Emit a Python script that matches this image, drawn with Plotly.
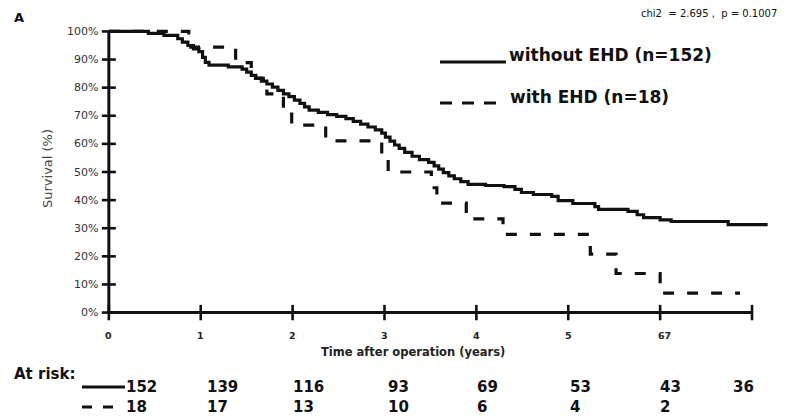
import plotly.graph_objects as go

# ---------------- data ----------------
# Kaplan-Meier curve: without EHD (n=152)  (years, survival %)
t_without = [0, 0.43, 0.60, 0.75, 0.80, 0.86, 0.92, 0.98, 1.02, 1.05, 1.09, 1.30, 1.45,
             1.50, 1.55, 1.60, 1.66, 1.72, 1.78, 1.84, 1.90, 1.96, 2.02, 2.08, 2.13, 2.18,
             2.28, 2.38, 2.48, 2.58, 2.66, 2.74, 2.82, 2.90, 2.97, 3.01, 3.06, 3.11, 3.16,
             3.22, 3.30, 3.38, 3.48, 3.54, 3.59, 3.64, 3.70, 3.76, 3.83, 3.91, 4.10, 4.30,
             4.42, 4.49, 4.62, 4.82, 4.89, 5.05, 5.29, 5.33, 5.65, 5.75, 5.82, 6.00, 6.12,
             6.74, 7.17]
s_without = [100, 99.3, 98.6, 97.4, 96.2, 95.0, 93.8, 92.8, 90.8, 89.0, 88.0, 87.4, 86.6,
             85.5, 84.4, 83.4, 82.3, 81.3, 80.2, 79.0, 77.8, 76.8, 75.6, 74.4, 73.2, 72.0,
             71.2, 70.4, 69.8, 69.0, 68.0, 67.0, 66.0, 65.0, 63.8, 62.4, 61.0, 59.6, 58.4,
             57.0, 55.6, 54.4, 53.4, 52.2, 51.0, 49.8, 48.6, 47.6, 46.6, 45.6, 45.2, 44.8,
             43.8, 42.7, 42.0, 41.3, 39.8, 38.8, 37.7, 36.7, 36.0, 34.8, 33.8, 33.0, 32.4,
             31.3, 31.3]

# Kaplan-Meier curve: with EHD (n=18)
t_with = [0, 0.87, 1.38, 1.55, 1.72, 1.90, 1.99, 2.36, 2.97, 3.04, 3.51, 3.57, 3.89,
          4.29, 5.24, 5.52, 6.00, 6.87]
s_with = [100, 94.4, 88.9, 83.3, 77.8, 72.2, 66.7, 61.1, 55.6, 50.0, 44.4, 38.9, 33.3,
          27.8, 20.8, 13.9, 6.9, 6.9]

# axes ticks
x_ticks = [0, 1, 2, 3, 4, 5, 6, 7]
x_ticktext = ["0", "1", "2", "3", "4", "5", "67", ""]
y_ticks = [0, 10, 20, 30, 40, 50, 60, 70, 80, 90, 100]
y_ticktext = [f"{v}%" for v in y_ticks]

# numbers at risk
risk_without = [152, 139, 116, 93, 69, 53, 43, 36]
risk_with = [18, 17, 13, 10, 6, 4, 2]

label_without = "without EHD (n=152)"
label_with = "with EHD (n=18)"
stats_text = "chi2\u00a0\u00a0=\u00a02.695\u00a0,\u00a0\u00a0p\u00a0=\u00a00.1007"

# ---------------- layout helpers ----------------
W, H = 786, 419
ML, MR, MT, MB = 107, 11, 23, 98
PW, PH = W - ML - MR, H - MT - MB


def xp(px):
    return (px - ML) / PW


def yp(py):
    return (H - MB - py) / PH


FONT = "DejaVu Sans"
BLACK = "#111111"

fig = go.Figure()

# survival curves
fig.add_trace(go.Scatter(x=t_without, y=s_without, mode="lines", line_shape="hv",
                         line=dict(color=BLACK, width=3.2), hoverinfo="skip"))
fig.add_trace(go.Scatter(x=t_with, y=s_with, mode="lines", line_shape="hv",
                         line=dict(color=BLACK, width=3.2, dash="11px,13px"), hoverinfo="skip"))

# axis lines
fig.add_trace(go.Scatter(x=[x_ticks[0], x_ticks[0]], y=[y_ticks[0], y_ticks[-1]], mode="lines",
                         line=dict(color=BLACK, width=3), hoverinfo="skip"))
fig.add_trace(go.Scatter(x=[x_ticks[0], x_ticks[-1]], y=[y_ticks[0], y_ticks[0]], mode="lines",
                         line=dict(color=BLACK, width=3), hoverinfo="skip"))
# crossing tick marks
fig.add_trace(go.Scatter(x=[x_ticks[0]] * len(y_ticks), y=y_ticks, mode="markers", cliponaxis=False,
                         marker=dict(symbol="line-ew", size=10, line=dict(color=BLACK, width=2.6)),
                         hoverinfo="skip"))
fig.add_trace(go.Scatter(x=x_ticks, y=[y_ticks[0]] * len(x_ticks), mode="markers", cliponaxis=False,
                         marker=dict(symbol="line-ns", size=11, line=dict(color=BLACK, width=2.6)),
                         hoverinfo="skip"))

ann = []


def text(x, y, s, size, xanchor="center", xref="paper", yref="paper", color=BLACK, **kw):
    ann.append(dict(x=x, y=y, xref=xref, yref=yref, text=s, showarrow=False,
                    xanchor=xanchor, yanchor="middle",
                    font=dict(family=FONT, size=size, color=color), **kw))


# y tick labels
for v, t in zip(y_ticks, y_ticktext):
    text(xp(100), v, t, 11, xanchor="right", yref="y", color="#333")
# x tick labels
for v, t in zip(x_ticks, x_ticktext):
    if t:
        text(v, yp(335), f"<b>{t}</b>", 9.5, xref="x", color="#222",
             xshift=4 if len(t) > 1 else 0)

# axis titles
text(xp(413), yp(352), "<b>Time after operation (years)</b>", 11.5, color="#222")
text(xp(47), yp(169), "Survival (%)", 13, color="#444", textangle=-90)

# panel letter and statistic
text(xp(19), yp(18), "<b>A</b>", 13)
text(xp(779), yp(14), stats_text, 10, xanchor="right")

# legend
text(xp(507), yp(55), f"<b>{label_without}</b>", 17, xanchor="left")
text(xp(508), yp(97), f"<b>{label_with}</b>", 17, xanchor="left")

shapes = [
    dict(type="line", xref="paper", yref="paper", x0=xp(440), x1=xp(506), y0=yp(62), y1=yp(62),
         line=dict(color=BLACK, width=3.2)),
    dict(type="line", xref="paper", yref="paper", x0=xp(440), x1=xp(497), y0=yp(103), y1=yp(103),
         line=dict(color=BLACK, width=3.2, dash="12px,10px")),
    dict(type="line", xref="paper", yref="paper", x0=xp(82), x1=xp(125), y0=yp(387), y1=yp(387),
         line=dict(color=BLACK, width=3)),
    dict(type="line", xref="paper", yref="paper", x0=xp(82), x1=xp(113), y0=yp(407), y1=yp(407),
         line=dict(color=BLACK, width=3, dash="10px,11px")),
]

# numbers at risk
text(xp(12), yp(374), "<b>At risk:</b>", 15, xanchor="left")
risk_label_x = [0.165, 1.05, 1.98, 3.02, 3.99, 5.0, 5.98, 6.77]
for i, n in enumerate(risk_without):
    text(risk_label_x[i], yp(387), f"<b>{n}</b>", 15, xanchor="left", xref="x")
for i, n in enumerate(risk_with):
    text(risk_label_x[i], yp(407), f"<b>{n}</b>", 15, xanchor="left", xref="x")

fig.update_layout(
    width=W, height=H,
    margin=dict(l=ML, r=MR, t=MT, b=MB, pad=0),
    paper_bgcolor="white", plot_bgcolor="white",
    showlegend=False,
    xaxis=dict(range=[-0.02, 7.25], visible=False, fixedrange=True),
    yaxis=dict(range=[-3, 103], visible=False, fixedrange=True),
    annotations=ann, shapes=shapes,
)

fig.write_html("out.html")
